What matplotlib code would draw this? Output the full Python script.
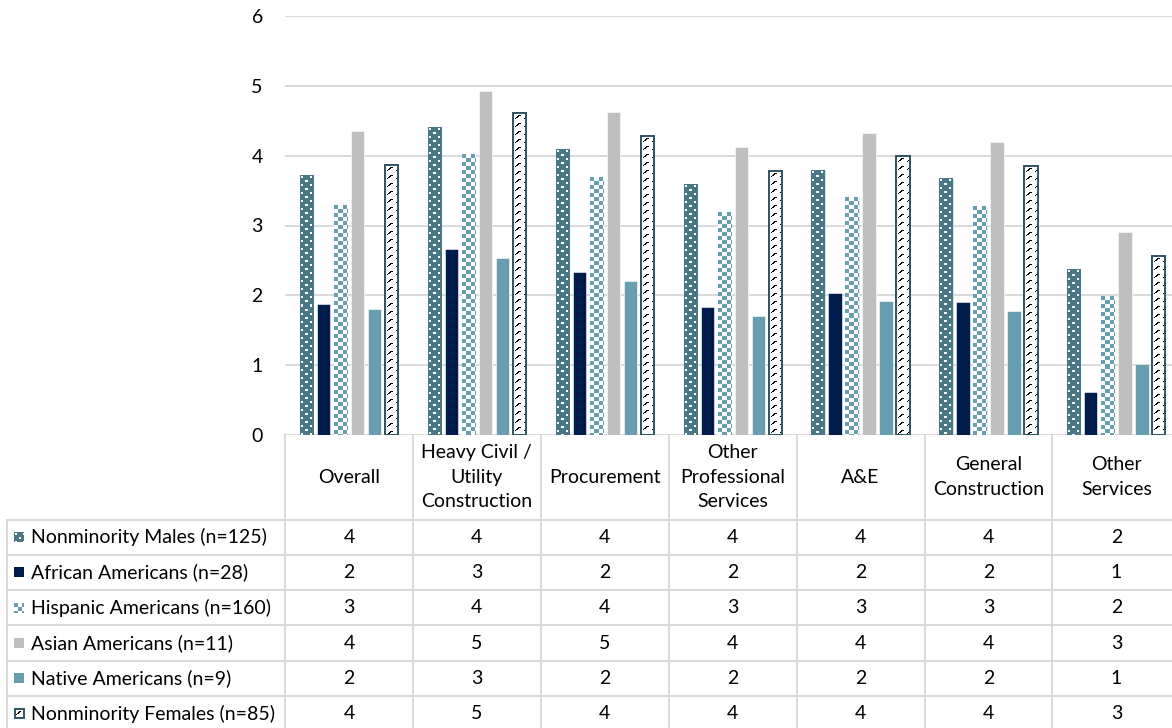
import numpy as np
import matplotlib
matplotlib.use('Agg')
import matplotlib.pyplot as plt
from matplotlib.colors import to_rgb

plt.rcParams['font.family'] = ['Lato', 'DejaVu Sans']

# ── Data ─────────────────────────────────────────────────────
categories = ['Overall', 'Heavy Civil /\nUtility\nConstruction', 'Procurement',
              'Other\nProfessional\nServices', 'A&E', 'General\nConstruction',
              'Other\nServices']
groups = ['Nonminority Males (n=125)', 'African Americans (n=28)',
          'Hispanic Americans (n=160)', 'Asian Americans (n=11)',
          'Native Americans (n=9)', 'Nonminority Females (n=85)']

nonminority_males   = [3.71, 4.41, 4.09, 3.59, 3.79, 3.67, 2.37]
african_americans   = [1.88, 2.66, 2.34, 1.84, 2.04, 1.90, 0.62]
hispanic_americans  = [3.28, 4.01, 3.69, 3.19, 3.40, 3.27, 1.98]
asian_americans     = [4.36, 4.93, 4.62, 4.12, 4.32, 4.19, 2.90]
native_americans    = [1.80, 2.53, 2.21, 1.71, 1.92, 1.78, 1.02]
nonminority_females = [3.86, 4.61, 4.28, 3.78, 3.99, 3.85, 2.56]

series = [nonminority_males, african_americans, hispanic_americans,
          asian_americans, native_americans, nonminority_females]

# ── Colours / fill patterns ──────────────────────────────────
TEAL_DK = '#4A7786'
NAVY = '#001C4C'
TEAL_LT = '#689FB0'
GREY = '#BFBFBF'
NF_EDGE = '#2E5360'
GRID = '#D9D9D9'
FS = 14


def tile_from(mask, on, off):
    mask = np.array(mask, dtype=bool)
    t = np.empty(mask.shape + (3,))
    t[mask] = to_rgb(on)
    t[~mask] = to_rgb(off)
    return t

dots = tile_from([[0, 0, 0, 0, 0, 0, 0, 0],
                  [0, 1, 1, 0, 0, 0, 0, 0],
                  [0, 1, 1, 0, 0, 0, 0, 0],
                  [0, 0, 0, 0, 0, 0, 0, 0],
                  [0, 0, 0, 0, 0, 0, 0, 0],
                  [0, 0, 0, 0, 0, 1, 1, 0],
                  [0, 0, 0, 0, 0, 1, 1, 0],
                  [0, 0, 0, 0, 0, 0, 0, 0]], 'white', TEAL_DK)
checker = tile_from(np.kron([[1, 0], [0, 1]], np.ones((4, 4))), TEAL_LT, 'white')
dashes = tile_from([[0, 0, 0, 0, 0, 0, 0, 0],
                    [0, 0, 0, 0, 0, 0, 0, 0],
                    [0, 0, 0, 0, 0, 1, 1, 0],
                    [0, 0, 0, 0, 1, 1, 0, 0],
                    [0, 0, 0, 1, 1, 0, 0, 0],
                    [0, 0, 1, 0, 0, 0, 0, 0],
                    [0, 0, 0, 0, 0, 0, 0, 0],
                    [0, 0, 0, 0, 0, 0, 0, 0]], 'black', 'white')

styles = [dict(color=TEAL_DK, tile=dots),
          dict(color=NAVY, tile=None),
          dict(color=TEAL_LT, tile=checker),
          dict(color=GREY, tile=None),
          dict(color=TEAL_LT, tile=None),
          dict(color='white', tile=dashes, edge=NF_EDGE)]


def pattern(ax, x0, x1, yb, yt, tile, z):
    """Tile a pixel pattern over a rectangle given in data units."""
    p = ax.transData.transform([(x0, yb), (x1, yt)])
    w = max(int(round(abs(p[1, 0] - p[0, 0]))), 1)
    h = max(int(round(abs(p[1, 1] - p[0, 1]))), 1)
    ty, tx = tile.shape[:2]
    img = np.tile(tile, (h // ty + 1, w // tx + 1, 1))[:h, :w]
    ax.imshow(img, extent=(x0, x1, yb, yt), aspect='auto',
              interpolation='nearest', zorder=z)


# ── Figure ───────────────────────────────────────────────────
FW, FH = 1172, 728
fig = plt.figure(figsize=(FW / 100, FH / 100), dpi=100)
fig.patch.set_facecolor('white')

X0, COLW = 285, 127.9           # table column start / width (px)
Y0, Y6 = 435, 16                # y=0 and y=6 positions (px)
ncat = len(categories)
ax = fig.add_axes([X0 / FW, (FH - Y0) / FH, ncat * COLW / FW, (Y0 - Y6) / FH])
ax.set_xlim(0, ncat)
ax.set_ylim(0, 6)
ax.set_autoscale_on(False)
ax.set_yticks(range(7))
ax.tick_params(axis='y', length=0, pad=16, labelsize=FS, labelcolor='black')
ax.set_xticks([])
ax.yaxis.grid(True, color=GRID, linewidth=1.4)
ax.set_axisbelow(True)
for s in ax.spines.values():
    s.set_visible(False)

x = np.arange(ncat) + 0.5
step, bw = 17 / COLW, 13.3 / COLW
for i, (vals, st) in enumerate(zip(series, styles)):
    xs = x + (i - 2.5) * step
    bars = ax.bar(xs, vals, bw, color=st['color'], edgecolor='white',
                  linewidth=0.4, zorder=2)
    if st['tile'] is not None:
        for b in bars:
            pattern(ax, b.get_x(), b.get_x() + b.get_width(), 0,
                    b.get_height(), st['tile'], 2.5)
    if 'edge' in st:
        ax.bar(xs, vals, bw, fill=False, edgecolor=st['edge'],
               linewidth=1.4, zorder=3)

# ── Data table underneath (pixel coordinates) ────────────────
tab = fig.add_axes([0, 0, 1, 1], zorder=-1)
tab.set_xlim(0, FW)
tab.set_ylim(FH, 0)
tab.set_autoscale_on(False)
tab.axis('off')

col_x = [X0 + k * COLW for k in range(ncat + 1)]
row_y = [519.5 + k * 35.3 for k in range(len(groups) + 1)]
lw = 1.4
tab.plot([X0, col_x[-1]], [Y0 - 1, Y0 - 1], color=GRID, lw=lw)
for cx in col_x:
    tab.plot([cx, cx], [Y0 - 1, FH + 5], color=GRID, lw=lw)
tab.plot([7, 7], [row_y[0], FH + 5], color=GRID, lw=lw)
for ry in row_y:
    tab.plot([7, col_x[-1]], [ry, ry], color=GRID, lw=lw)

for k, cat in enumerate(categories):
    tab.text((col_x[k] + col_x[k + 1]) / 2, (Y0 + row_y[0]) / 2, cat,
             ha='center', va='center', fontsize=FS, linespacing=1.55)

for r, (name, vals, st) in enumerate(zip(groups, series, styles)):
    cy = (row_y[r] + row_y[r + 1]) / 2
    # legend key
    tab.add_patch(plt.Rectangle((14, cy - 5), 10, 10, facecolor=st['color'],
                                edgecolor='none'))
    if st['tile'] is not None:
        pattern(tab, 14, 24, cy + 5, cy - 5, st['tile'], 2)
    if 'edge' in st:
        tab.add_patch(plt.Rectangle((14.5, cy - 4.5), 9, 9, fill=False,
                                    edgecolor=st['edge'], lw=1.4, zorder=3))
    tab.text(31, cy, name, ha='left', va='center', fontsize=FS)
    for k, v in enumerate(vals):
        tab.text((col_x[k] + col_x[k + 1]) / 2, cy, f'{v:.0f}',
                 ha='center', va='center', fontsize=FS)

fig.savefig('out.png', dpi=100, facecolor='white')
